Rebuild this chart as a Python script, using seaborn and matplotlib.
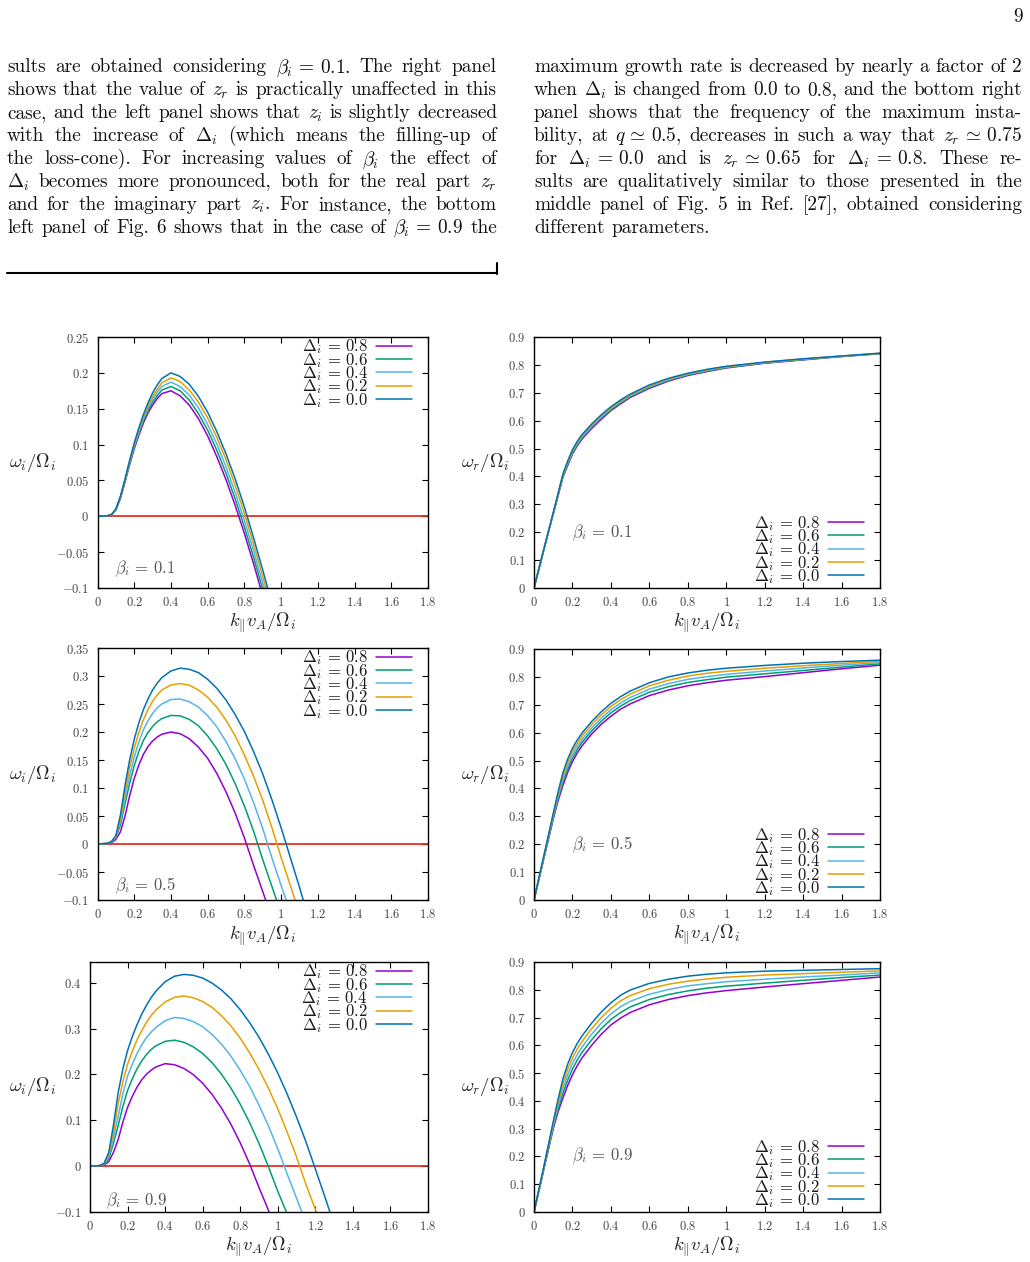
import re
import matplotlib
matplotlib.use("Agg")
import matplotlib.pyplot as plt
from matplotlib.lines import Line2D
from matplotlib.ticker import MultipleLocator, FuncFormatter
import pandas as pd
import seaborn as sns

# ---------------------------------------------------------------------------
# values
# ---------------------------------------------------------------------------
DELTAS = ["0.8", "0.6", "0.4", "0.2", "0.0"]
COLORS = ["#9400d3", "#009e73", "#56b4e9", "#e69f00", "#0072b2"]
ZERO_COLOR = "#e51e10"

# growth rate, beta_i = 0.1
k_im_b01 = [0, 0.05, 0.075, 0.1, 0.125, 0.15, 0.175, 0.2, 0.225, 0.25, 0.275, 0.3, 0.325, 0.35, 0.4,
            0.45, 0.5, 0.55, 0.6, 0.65, 0.7, 0.75, 0.8, 0.85, 0.9, 0.95]
wi_b01_d08 = [0, 0.0005, 0.002, 0.009, 0.025, 0.048, 0.072, 0.094, 0.113, 0.130, 0.144, 0.155, 0.164, 0.171, 0.175,
              0.168, 0.155, 0.136, 0.112, 0.083, 0.051, 0.015, -0.024, -0.066, -0.111, -0.158]
wi_b01_d06 = [0, 0.0005, 0.002, 0.009, 0.026, 0.049, 0.074, 0.096, 0.116, 0.133, 0.147, 0.159, 0.168, 0.176, 0.181,
              0.175, 0.162, 0.143, 0.120, 0.092, 0.060, 0.024, -0.015, -0.057, -0.102, -0.149]
wi_b01_d04 = [0, 0.0005, 0.002, 0.010, 0.027, 0.050, 0.075, 0.098, 0.118, 0.136, 0.151, 0.163, 0.173, 0.181, 0.187,
              0.181, 0.169, 0.151, 0.128, 0.101, 0.069, 0.033, -0.006, -0.048, -0.093, -0.140]
wi_b01_d02 = [0, 0.0005, 0.002, 0.010, 0.027, 0.051, 0.077, 0.100, 0.121, 0.139, 0.154, 0.167, 0.177, 0.186, 0.193,
              0.188, 0.176, 0.159, 0.137, 0.110, 0.079, 0.043, 0.004, -0.039, -0.084, -0.131]
wi_b01_d00 = [0, 0.0005, 0.002, 0.010, 0.028, 0.052, 0.078, 0.102, 0.123, 0.142, 0.158, 0.172, 0.183, 0.192, 0.200,
              0.195, 0.184, 0.167, 0.145, 0.118, 0.087, 0.052, 0.013, -0.030, -0.075, -0.122]

# growth rate, beta_i = 0.5
k_im_b05 = [0, 0.05, 0.075, 0.1, 0.125, 0.15, 0.175, 0.2, 0.225, 0.25, 0.275, 0.3, 0.325, 0.35, 0.4, 0.45, 0.5,
            0.55, 0.6, 0.65, 0.7, 0.75, 0.8, 0.85, 0.9, 0.95, 1.0, 1.05, 1.1, 1.15, 1.2]
wi_b05_d08 = [0, 0.0005, 0.002, 0.008, 0.022, 0.050, 0.086, 0.117, 0.141, 0.160, 0.174, 0.184, 0.191, 0.196, 0.200,
              0.197, 0.188, 0.173, 0.153, 0.126, 0.093, 0.055, 0.011, -0.038, -0.085, -0.133, -0.19, -0.25, -0.31,
              -0.37, -0.43]
wi_b05_d06 = [0, 0.001, 0.003, 0.011, 0.034, 0.072, 0.108, 0.140, 0.165, 0.185, 0.199, 0.210, 0.218, 0.224, 0.2296,
              0.2289, 0.2225, 0.211, 0.193, 0.170, 0.142, 0.1075, 0.068, 0.023, -0.028, -0.076, -0.124, -0.18, -0.24,
              -0.30, -0.36]
wi_b05_d04 = [0, 0.001, 0.003, 0.012, 0.039, 0.082, 0.122, 0.155, 0.182, 0.204, 0.220, 0.233, 0.243, 0.250, 0.258,
              0.259, 0.254, 0.2445, 0.229, 0.209, 0.183, 0.152, 0.116, 0.074, 0.0275, -0.025, -0.074, -0.122, -0.18,
              -0.24, -0.30]
wi_b05_d02 = [0, 0.001, 0.004, 0.013, 0.045, 0.093, 0.136, 0.171, 0.199, 0.222, 0.240, 0.255, 0.266, 0.275, 0.284,
              0.2865, 0.2835, 0.275, 0.262, 0.244, 0.221, 0.193, 0.159, 0.121, 0.078, 0.029, -0.024, -0.074, -0.124,
              -0.18, -0.24]
wi_b05_d00 = [0, 0.001, 0.004, 0.015, 0.052, 0.105, 0.150, 0.187, 0.216, 0.240, 0.259, 0.275, 0.287, 0.297, 0.309,
              0.314, 0.312, 0.306, 0.294, 0.278, 0.257, 0.231, 0.201, 0.165, 0.125, 0.079, 0.029, -0.024, -0.077,
              -0.133, -0.19]

# growth rate, beta_i = 0.9
k_im_b09 = [0, 0.05, 0.075, 0.1, 0.125, 0.15, 0.175, 0.2, 0.225, 0.25, 0.275, 0.3, 0.325, 0.35, 0.4, 0.45, 0.5,
            0.55, 0.6, 0.65, 0.7, 0.75, 0.8, 0.85, 0.9, 0.95, 1.0, 1.05, 1.1, 1.15, 1.2, 1.25, 1.3]
wi_b09_d08 = [0, 0.0005, 0.002, 0.010, 0.030, 0.058, 0.096, 0.128, 0.152, 0.172, 0.188, 0.200, 0.209, 0.216, 0.2234,
              0.221, 0.213, 0.1996, 0.1807, 0.1564, 0.1267, 0.0916, 0.051, 0.0049, -0.0466, -0.096, -0.152, -0.21,
              -0.27, -0.33, -0.39, -0.45, -0.51]
wi_b09_d06 = [0, 0.001, 0.003, 0.016, 0.050, 0.088, 0.130, 0.165, 0.190, 0.212, 0.229, 0.243, 0.254, 0.262, 0.272,
              0.2746, 0.270, 0.260, 0.2455, 0.2256, 0.2006, 0.1704, 0.1352, 0.0949, 0.0495, -0.001, -0.055, -0.104,
              -0.16, -0.22, -0.28, -0.34, -0.40]
wi_b09_d04 = [0, 0.001, 0.004, 0.020, 0.062, 0.108, 0.158, 0.196, 0.222, 0.245, 0.264, 0.280, 0.292, 0.302, 0.317,
              0.324, 0.322, 0.315, 0.304, 0.287, 0.266, 0.240, 0.209, 0.174, 0.133, 0.088, 0.038, -0.017, -0.070,
              -0.124, -0.18, -0.24, -0.30]
wi_b09_d02 = [0, 0.001, 0.005, 0.025, 0.075, 0.136, 0.184, 0.222, 0.250, 0.275, 0.295, 0.313, 0.328, 0.340, 0.358,
              0.368, 0.371, 0.367, 0.359, 0.346, 0.328, 0.306, 0.279, 0.247, 0.211, 0.170, 0.125, 0.074, 0.020,
              -0.040, -0.094, -0.152, -0.21]
wi_b09_d00 = [0, 0.001, 0.006, 0.030, 0.090, 0.160, 0.212, 0.252, 0.282, 0.308, 0.331, 0.350, 0.367, 0.381, 0.402,
              0.414, 0.418, 0.416, 0.410, 0.399, 0.384, 0.365, 0.341, 0.313, 0.281, 0.244, 0.203, 0.157, 0.107,
              0.053, -0.006, -0.066, -0.127]

# real frequency, same k grid for all three beta values
k_re = [0, 0.05, 0.1, 0.125, 0.15, 0.175, 0.2, 0.225, 0.25, 0.3, 0.35, 0.4, 0.45, 0.5,
        0.6, 0.7, 0.8, 0.9, 1.0, 1.2, 1.4, 1.6, 1.8]
wr_b01_d08 = [0, 0.135, 0.266, 0.330, 0.396, 0.439, 0.480, 0.510, 0.534, 0.572, 0.605, 0.636, 0.660, 0.683,
              0.716, 0.742, 0.762, 0.776, 0.789, 0.806, 0.818, 0.830, 0.840]
wr_b01_d06 = [0, 0.135, 0.267, 0.332, 0.399, 0.443, 0.484, 0.514, 0.538, 0.576, 0.609, 0.6395, 0.6635, 0.686,
              0.719, 0.7445, 0.764, 0.778, 0.7905, 0.807, 0.819, 0.8305, 0.8405]
wr_b01_d04 = [0, 0.135, 0.268, 0.334, 0.402, 0.447, 0.488, 0.518, 0.542, 0.580, 0.613, 0.643, 0.667, 0.689,
              0.722, 0.747, 0.766, 0.780, 0.792, 0.808, 0.820, 0.831, 0.841]
wr_b01_d02 = [0, 0.135, 0.269, 0.336, 0.405, 0.451, 0.492, 0.522, 0.546, 0.584, 0.617, 0.6465, 0.6705, 0.692,
              0.725, 0.7495, 0.768, 0.782, 0.7935, 0.809, 0.821, 0.8315, 0.8415]
wr_b01_d00 = [0, 0.135, 0.270, 0.338, 0.408, 0.455, 0.496, 0.526, 0.550, 0.588, 0.621, 0.650, 0.674, 0.695,
              0.728, 0.752, 0.770, 0.784, 0.795, 0.810, 0.822, 0.832, 0.842]

wr_b05_d08 = [0, 0.145, 0.290, 0.355, 0.410, 0.457, 0.496, 0.527, 0.553, 0.595, 0.630, 0.659, 0.684, 0.703,
              0.733, 0.753, 0.768, 0.779, 0.788, 0.801, 0.815, 0.829, 0.842]
wr_b05_d06 = [0, 0.148, 0.295, 0.363, 0.421, 0.469, 0.508, 0.539, 0.565, 0.606, 0.641, 0.671, 0.695, 0.715,
              0.745, 0.765, 0.780, 0.790, 0.799, 0.811, 0.823, 0.835, 0.847]
wr_b05_d04 = [0, 0.150, 0.300, 0.371, 0.432, 0.481, 0.520, 0.550, 0.576, 0.617, 0.652, 0.682, 0.706, 0.726,
              0.756, 0.776, 0.791, 0.801, 0.809, 0.821, 0.832, 0.842, 0.851]
wr_b05_d02 = [0, 0.152, 0.305, 0.379, 0.443, 0.493, 0.532, 0.562, 0.588, 0.629, 0.664, 0.694, 0.718, 0.738,
              0.768, 0.788, 0.803, 0.813, 0.820, 0.831, 0.840, 0.848, 0.856]
wr_b05_d00 = [0, 0.155, 0.310, 0.387, 0.455, 0.505, 0.544, 0.574, 0.599, 0.640, 0.675, 0.705, 0.729, 0.749,
              0.779, 0.800, 0.814, 0.824, 0.831, 0.841, 0.849, 0.855, 0.860]

wr_b09_d08 = [0, 0.150, 0.300, 0.360, 0.410, 0.455, 0.494, 0.527, 0.555, 0.600, 0.640, 0.673, 0.698, 0.718,
              0.746, 0.765, 0.779, 0.789, 0.797, 0.810, 0.822, 0.834, 0.846]
wr_b09_d06 = [0, 0.152, 0.306, 0.371, 0.427, 0.474, 0.514, 0.547, 0.575, 0.620, 0.660, 0.693, 0.718, 0.738,
              0.765, 0.783, 0.796, 0.806, 0.813, 0.824, 0.834, 0.844, 0.853]
wr_b09_d04 = [0, 0.155, 0.312, 0.382, 0.444, 0.493, 0.534, 0.567, 0.594, 0.640, 0.680, 0.713, 0.739, 0.758,
              0.784, 0.801, 0.814, 0.822, 0.829, 0.838, 0.846, 0.853, 0.861]
wr_b09_d02 = [0, 0.157, 0.319, 0.394, 0.461, 0.513, 0.554, 0.587, 0.614, 0.660, 0.700, 0.733, 0.760, 0.779,
              0.804, 0.820, 0.831, 0.839, 0.845, 0.853, 0.858, 0.863, 0.868]
wr_b09_d00 = [0, 0.160, 0.325, 0.405, 0.478, 0.532, 0.574, 0.607, 0.634, 0.680, 0.720, 0.753, 0.780, 0.799,
              0.823, 0.838, 0.849, 0.856, 0.861, 0.867, 0.870, 0.873, 0.876]

# page text (two justified columns)
LEFT_COLUMN = [
    r"sults are obtained considering $\beta_i \,=\, 0.1$. The right panel",
    r"shows that the value of $z_r$ is practically unaffected in this",
    r"case, and the left panel shows that $z_i$ is slightly decreased",
    r"with the increase of $\Delta_i$ (which means the filling-up of",
    r"the loss-cone). For increasing values of $\beta_i$ the effect of",
    r"$\Delta_i$ becomes more pronounced, both for the real part $z_r$",
    r"and for the imaginary part $z_i$. For instance, the bottom",
    r"left panel of Fig. 6 shows that in the case of $\beta_i \,=\, 0.9$ the",
]
RIGHT_COLUMN = [
    r"maximum growth rate is decreased by nearly a factor of 2",
    r"when $\Delta_i$ is changed from 0.0 to 0.8, and the bottom right",
    r"panel shows that the frequency of the maximum insta-",
    r"bility, at $q \,\simeq\, 0.5$, decreases in such a way that $z_r \,\simeq\, 0.75$",
    r"for $\Delta_i \,=\, 0.0$ and is $z_r \,\simeq\, 0.65$ for $\Delta_i \,=\, 0.8$. These re-",
    r"sults are qualitatively similar to those presented in the",
    r"middle panel of Fig. 5 in Ref. [27], obtained considering",
    r"different parameters.",
]

W, H = 1030, 1262
TEXT_SIZE = 13.9

sns.set_style("ticks")
plt.rcParams["font.family"] = "cmr10"
plt.rcParams["mathtext.fontset"] = "cm"
plt.rcParams["axes.formatter.use_mathtext"] = True
plt.rcParams["axes.unicode_minus"] = False


def fx(px):
    return px / W


def fy(py):
    return 1 - py / H


def write_column(fig, renderer, lines, x0, x1, y0, step):
    for n, line in enumerate(lines):
        tokens = re.findall(r"(?:\$[^$]*\$|[^\s$])+", line)
        arts = [fig.text(0, fy(y0 + n * step), t, fontsize=TEXT_SIZE, color="#111111",
                         va="baseline", ha="left") for t in tokens]
        widths = [a.get_window_extent(renderer=renderer).width for a in arts]
        last = n == len(lines) - 1 and line.endswith(".")
        if last or len(arts) == 1:
            gap = 6.5
        else:
            gap = (x1 - x0 - sum(widths)) / (len(arts) - 1)
        x = x0
        for a, w in zip(arts, widths):
            a.set_x(fx(x))
            x += w + gap


def tick_fmt(v, pos):
    v = round(v, 3) + 0.0
    return f"${v:g}$"


def draw_panel(ax, k, curves, ylim, ystep, ylabel, ylab_x, beta, beta_xy,
               zero_line, leg_loc, leg_anchor):
    if zero_line:
        ax.axhline(0, color=ZERO_COLOR, lw=1.2, zorder=1)
    df = pd.concat([pd.DataFrame({"k": k, "w": y, "delta": d})
                    for d, y in zip(DELTAS, curves)], ignore_index=True)
    sns.lineplot(data=df, x="k", y="w", hue="delta", hue_order=DELTAS, palette=COLORS,
                 estimator=None, sort=False, lw=1.1, legend=False, ax=ax, zorder=2)
    lines = ax.get_lines()[-5:]
    # gnuplot style key: tight rows, label before the line sample
    ax.legend(lines, [rf"$\Delta_i \,=\, {d}$" for d in DELTAS], loc=leg_loc,
              bbox_to_anchor=leg_anchor, frameon=False, fontsize=12,
              handlelength=2.15, handletextpad=0.5, labelspacing=-0.33,
              borderpad=0, borderaxespad=0, markerfirst=False, labelcolor="#1a1a1a")

    ax.set_xlim(0, 1.8)
    ax.set_ylim(*ylim)
    ax.xaxis.set_major_locator(MultipleLocator(0.2))
    ax.yaxis.set_major_locator(MultipleLocator(ystep))
    ax.xaxis.set_major_formatter(FuncFormatter(tick_fmt))
    ax.yaxis.set_major_formatter(FuncFormatter(tick_fmt))
    ax.tick_params(direction="in", length=4, width=0.8, top=True, right=True,
                   labelsize=9, pad=6, labelcolor="#444444", color="black")
    for s in ax.spines.values():
        s.set_linewidth(1.0)
        s.set_color("black")
        s.set_visible(True)

    ax.set_xlabel(r"$k_{\Vert} v_A/\Omega_i$", fontsize=13.5, color="#222222")
    ax.xaxis.set_label_coords(0.5, -0.092)
    ax.set_ylabel(ylabel, fontsize=13.5, rotation=0, ha="center", va="center", color="#222222")
    ax.yaxis.set_label_coords(ylab_x, 0.5)

    ax.text(beta_xy[0], beta_xy[1], rf"$\beta_i \,=\, {beta}$", transform=ax.transAxes,
            fontsize=12, color="#555555", ha="left", va="center")


fig = plt.figure(figsize=(W / 100, H / 100), dpi=100)
renderer = fig.canvas.get_renderer()

# page header and text
fig.text(fx(1023), fy(21.5), "9", fontsize=TEXT_SIZE, ha="right", va="baseline", color="#111111")
write_column(fig, renderer, LEFT_COLUMN, 7, 497, 72.5, 22.95)
write_column(fig, renderer, RIGHT_COLUMN, 534, 1022, 72.5, 22.95)
fig.add_artist(Line2D([fx(7), fx(497)], [fy(273), fy(273)], lw=1.5, color="black"))
fig.add_artist(Line2D([fx(497), fx(497)], [fy(274), fy(263)], lw=1.5, color="black"))

im_label = r"$\omega_i/\Omega_i$"
re_label = r"$\omega_r/\Omega_i$"
left_leg = ("upper right", (0.952, 0.998))
right_leg = ("lower right", (0.954, 0.008))

panels = [
    ([fx(97.5), fy(588), 330.5 / W, 251 / H], k_im_b01,
     [wi_b01_d08, wi_b01_d06, wi_b01_d04, wi_b01_d02, wi_b01_d00],
     (-0.1, 0.25), 0.05, im_label, -0.197, "0.1", (0.053, 0.075), True, *left_leg),
    ([fx(534), fy(588), 346 / W, 251 / H], k_re,
     [wr_b01_d08, wr_b01_d06, wr_b01_d04, wr_b01_d02, wr_b01_d00],
     (0, 0.9), 0.1, re_label, -0.142, "0.1", (0.111, 0.222), False, *right_leg),
    ([fx(97.5), fy(900), 330.5 / W, 252 / H], k_im_b05,
     [wi_b05_d08, wi_b05_d06, wi_b05_d04, wi_b05_d02, wi_b05_d00],
     (-0.1, 0.35), 0.05, im_label, -0.197, "0.5", (0.053, 0.056), True, *left_leg),
    ([fx(534), fy(900), 346 / W, 251 / H], k_re,
     [wr_b05_d08, wr_b05_d06, wr_b05_d04, wr_b05_d02, wr_b05_d00],
     (0, 0.9), 0.1, re_label, -0.142, "0.5", (0.111, 0.222), False, *right_leg),
    ([fx(90), fy(1212), 338 / W, 250 / H], k_im_b09,
     [wi_b09_d08, wi_b09_d06, wi_b09_d04, wi_b09_d02, wi_b09_d00],
     (-0.1, 0.445), 0.1, im_label, -0.170, "0.9", (0.047, 0.045), True, *left_leg),
    ([fx(534), fy(1212), 346 / W, 250 / H], k_re,
     [wr_b09_d08, wr_b09_d06, wr_b09_d04, wr_b09_d02, wr_b09_d00],
     (0, 0.9), 0.1, re_label, -0.142, "0.9", (0.111, 0.227), False, *right_leg),
]

for rect, *args in panels:
    ax = fig.add_axes(rect)
    draw_panel(ax, *args)

fig.savefig("out.png", dpi=100)
